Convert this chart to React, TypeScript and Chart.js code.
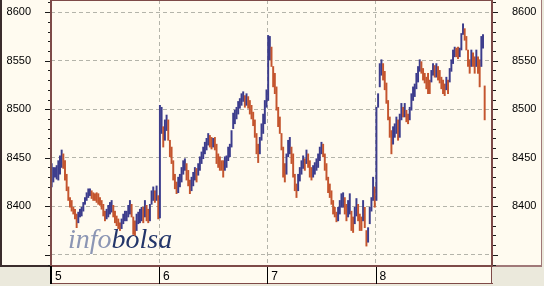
import { useEffect, useRef } from "react";
import { Chart, registerables } from "chart.js";

Chart.register(...registerables);

// ---- data -------------------------------------------------------------
const dayLabels = ["5", "6", "7", "8"];
const dayStarts = [-0.4, 64.5, 129.5, 194.5]; // x positions of day separators (bar index units)
const BARS_PER_DAY = 65;
const yMin = 8338.5;
const yMax = 8612.5;
const yTickValues = [8350, 8400, 8450, 8500, 8550, 8600];

// each entry: [low, high] of one intraday bar
const day5: [number, number][] = [
  [8420, 8444], [8425, 8440], [8430, 8440], [8428, 8442], [8427, 8447], [8433, 8452], [8440, 8458], [8439, 8454],
  [8427, 8447], [8416, 8433], [8406, 8420], [8399, 8409], [8395, 8406], [8392, 8399], [8387, 8397], [8378, 8392],
  [8383, 8394], [8389, 8397], [8390, 8399], [8395, 8404], [8402, 8409], [8406, 8414], [8409, 8418], [8411, 8418],
  [8408, 8416], [8406, 8414], [8406, 8413], [8404, 8414], [8402, 8413], [8401, 8409], [8397, 8406], [8390, 8402],
  [8385, 8395], [8387, 8397], [8389, 8401], [8392, 8404], [8394, 8406], [8389, 8401], [8383, 8395], [8380, 8390],
  [8377, 8387], [8375, 8383], [8377, 8387], [8382, 8392], [8385, 8395], [8385, 8395], [8389, 8401], [8392, 8406],
  [8389, 8402], [8371, 8389], [8370, 8385], [8375, 8392], [8382, 8394], [8383, 8397], [8385, 8399], [8383, 8399],
  [8389, 8406], [8385, 8401], [8383, 8397], [8385, 8402], [8402, 8416], [8406, 8420], [8404, 8416], [8406, 8421],
  [8387, 8411],
];
const day6: [number, number][] = [
  [8388, 8504], [8475, 8502], [8461, 8482], [8468, 8489], [8478, 8494], [8468, 8489], [8451, 8468], [8444, 8461],
  [8427, 8447], [8418, 8433], [8413, 8425], [8414, 8430], [8420, 8433], [8425, 8440], [8433, 8447], [8437, 8449],
  [8427, 8444], [8421, 8437], [8413, 8427], [8416, 8430], [8421, 8435], [8427, 8440], [8425, 8439], [8432, 8444],
  [8437, 8451], [8444, 8456], [8449, 8461], [8454, 8466], [8458, 8470], [8463, 8475], [8461, 8473], [8459, 8471],
  [8461, 8470], [8458, 8471], [8444, 8464], [8440, 8454], [8437, 8451], [8437, 8447], [8430, 8447], [8437, 8451],
  [8440, 8452], [8447, 8461], [8451, 8464], [8461, 8478], [8480, 8496], [8485, 8499], [8490, 8502], [8495, 8508],
  [8501, 8511], [8504, 8516], [8508, 8518], [8502, 8514], [8504, 8516], [8501, 8513], [8495, 8509], [8490, 8504],
  [8483, 8497], [8471, 8489], [8454, 8475], [8445, 8464], [8454, 8471], [8468, 8485], [8475, 8495], [8485, 8509],
  [8502, 8520],
];
const day7: [number, number][] = [
  [8509, 8576], [8551, 8575], [8544, 8564], [8523, 8544], [8516, 8537], [8499, 8523], [8482, 8502], [8475, 8492],
  [8458, 8475], [8430, 8461], [8425, 8444], [8433, 8454], [8451, 8468], [8454, 8471], [8444, 8461], [8430, 8454],
  [8416, 8433], [8409, 8423], [8416, 8433], [8426, 8440], [8433, 8447], [8439, 8452], [8437, 8449], [8444, 8458],
  [8440, 8454], [8430, 8447], [8427, 8440], [8430, 8442], [8433, 8445], [8437, 8449], [8440, 8454], [8447, 8461],
  [8454, 8466], [8451, 8464], [8437, 8454], [8427, 8444], [8414, 8430], [8409, 8423], [8402, 8416], [8392, 8406],
  [8389, 8399], [8384, 8394], [8385, 8399], [8392, 8406], [8399, 8413], [8399, 8414], [8392, 8409], [8385, 8402],
  [8389, 8406], [8392, 8413], [8375, 8395], [8373, 8389], [8382, 8399], [8390, 8408], [8385, 8402], [8375, 8392],
  [8375, 8389], [8385, 8406], [8378, 8399], [8359, 8375], [8363, 8378], [8382, 8399], [8395, 8409], [8406, 8430],
  [8399, 8420],
];
const day8: [number, number][] = [
  [8406, 8502], [8502, 8516], [8523, 8547], [8535, 8551], [8530, 8547], [8520, 8539], [8506, 8527], [8489, 8509],
  [8471, 8492], [8454, 8478], [8464, 8482], [8471, 8485], [8475, 8492], [8468, 8489], [8471, 8495], [8489, 8506],
  [8492, 8502], [8492, 8506], [8487, 8499], [8485, 8495], [8489, 8502], [8499, 8516], [8509, 8523], [8513, 8526],
  [8521, 8537], [8528, 8544], [8539, 8551], [8537, 8549], [8530, 8542], [8527, 8537], [8521, 8533], [8516, 8537],
  [8516, 8530], [8528, 8540], [8535, 8547], [8533, 8545], [8533, 8547], [8530, 8544], [8527, 8540], [8521, 8533],
  [8516, 8530], [8514, 8526], [8520, 8533], [8516, 8530], [8528, 8542], [8539, 8551], [8547, 8561], [8554, 8564],
  [8554, 8563], [8552, 8564], [8554, 8563], [8561, 8578], [8577, 8588], [8571, 8583], [8561, 8575], [8544, 8561],
  [8537, 8551], [8544, 8561], [8544, 8558], [8537, 8554], [8544, 8561], [8537, 8554], [8523, 8551], [8544, 8575],
  [8563, 8577], [8489, 8524],
];

// ---- styles -------------------------------------------------------------
const CREAM = "#fffbf0";
const GRAY = "#ebe9dc";
const GRID = "#b4b4aa";
const AXIS = "#7e4a48";
const DARK = "#3a2c2c";
const PANEL_LINE = "#a07878";
const UP = "#3c3c8c";
const DOWN = "#c4552e";
const FONT = "'Liberation Sans', Arial, sans-serif";

export default function App() {
  const ref = useRef<HTMLCanvasElement>(null);

  useEffect(() => {
    document.body.style.margin = "0";
    const canvas = ref.current;
    if (!canvas) return;

    const days = [day5, day6, day7, day8];
    const points: { x: number; y: [number, number] }[] = [];
    days.forEach((d, di) => d.forEach((r, k) => points.push({ x: di * BARS_PER_DAY + k, y: r })));
    const colors = points.map((p, i) => {
      const mid = (p.y[0] + p.y[1]) / 2;
      const prev = i > 0 ? (points[i - 1].y[0] + points[i - 1].y[1]) / 2 : mid;
      return mid >= prev ? UP : DOWN;
    });

    const framePlugin = {
      id: "frame",
      beforeDraw(chart: any) {
        const ctx = chart.ctx;
        ctx.save();
        ctx.fillStyle = GRAY;
        ctx.fillRect(0, 0, 544, 286);
        ctx.fillStyle = CREAM;
        ctx.fillRect(0, 0, 542, 267);
        ctx.fillRect(50, 266, 442, 18);
        ctx.restore();
      },
      beforeDatasetsDraw(chart: any) {
        const ctx = chart.ctx;
        ctx.save();
        ctx.textBaseline = "alphabetic";
        ctx.textAlign = "left";
        ctx.font = "italic 28px 'Liberation Serif', 'Times New Roman', serif";
        ctx.fillStyle = "#8c96b4";
        const x0 = 68;
        const base = 248;
        ctx.fillText("info", x0, base);
        const w = ctx.measureText("info").width;
        ctx.fillStyle = "#24366a";
        ctx.fillText("bolsa", x0 + w, base);
        ctx.restore();
      },
      afterDraw(chart: any) {
        const ctx = chart.ctx;
        const ys = chart.scales.y;
        const xs = chart.scales.x;
        ctx.save();
        // left panel border
        ctx.fillStyle = DARK;
        ctx.fillRect(0, 0, 2, 266);
        ctx.fillRect(0, 265, 51, 2);
        // right panel border
        ctx.fillStyle = PANEL_LINE;
        ctx.fillRect(541, 0, 1, 267);
        ctx.fillRect(492, 265, 50, 2);
        // plot frame
        ctx.fillStyle = AXIS;
        ctx.fillRect(50, 0, 443, 1);
        ctx.fillRect(50, 0, 2, 267);
        ctx.fillRect(491, 0, 2, 267);
        ctx.fillRect(50, 265, 443, 2);
        // x strip
        ctx.fillRect(50, 283, 443, 1);
        ctx.fillRect(491, 266, 1, 18);
        ctx.fillStyle = "#000";
        ctx.fillRect(50, 266, 2, 18);
        for (let i = 1; i < dayStarts.length; i++) {
          const px = Math.round(xs.getPixelForValue(dayStarts[i]));
          ctx.fillRect(px, 267, 1, 17);
        }
        // y tick marks
        ctx.fillStyle = "#1a1a1a";
        for (let v = 8340; v <= 8610; v += 10) {
          const py = Math.round(ys.getPixelForValue(v));
          if (py < 1 || py > 265) continue;
          if (v % 50 === 0) {
            ctx.fillRect(45, py, 5, 1);
            ctx.fillRect(493, py, 5, 1);
          } else {
            ctx.fillRect(48, py, 2, 1);
            ctx.fillRect(493, py, 3, 1);
          }
        }
        ctx.restore();
      },
    };

    const yTickLabel = (v: any) => (v === 8350 ? "" : String(v));

    const chart = new Chart(canvas, {
      type: "bar",
      data: {
        datasets: [
          {
            data: points as any,
            backgroundColor: colors,
            borderWidth: 0,
            barThickness: 1.3,
            yAxisID: "y",
          },
        ],
      },
      options: {
        animation: false,
        responsive: false,
        devicePixelRatio: 1,
        layout: { padding: 0 },
        plugins: { legend: { display: false }, tooltip: { enabled: false } },
        scales: {
          x: {
            type: "linear",
            offset: false,
            min: dayStarts[0],
            max: 264.4,
            afterBuildTicks: (s: any) => {
              s.ticks = dayStarts.map((v) => ({ value: v }));
            },
            ticks: {
              callback: (_v: any, i: number) => dayLabels[i],
              align: "start",
              labelOffset: 4,
              padding: 3,
              autoSkip: false,
              maxRotation: 0,
              color: "#000",
              font: { family: FONT, size: 12 },
            },
            grid: { color: GRID, drawTicks: false, lineWidth: 1, offset: false },
            border: { display: false, dash: [4, 3] },
            afterFit: (s: any) => {
              s.height = 20;
              s.paddingLeft = 0;
              s.paddingRight = 0;
            },
          } as any,
          y: {
            type: "linear",
            position: "left",
            min: yMin,
            max: yMax,
            afterBuildTicks: (s: any) => {
              s.ticks = yTickValues.map((v) => ({ value: v }));
            },
            ticks: {
              callback: yTickLabel,
              padding: 20,
              color: "#000",
              font: { family: FONT, size: 11 },
            },
            grid: { color: GRID, drawTicks: false, lineWidth: 1 },
            border: { display: false, dash: [4, 3] },
            afterFit: (s: any) => {
              s.width = 51;
              s.paddingTop = 0;
              s.paddingBottom = 0;
            },
          } as any,
          y2: {
            type: "linear",
            position: "right",
            min: yMin,
            max: yMax,
            afterBuildTicks: (s: any) => {
              s.ticks = yTickValues.map((v) => ({ value: v }));
            },
            ticks: {
              callback: yTickLabel,
              padding: 20,
              color: "#000",
              font: { family: FONT, size: 11 },
            },
            grid: { display: false, drawTicks: false },
            border: { display: false },
            afterFit: (s: any) => {
              s.width = 52;
              s.paddingTop = 0;
              s.paddingBottom = 0;
            },
          } as any,
        },
      },
      plugins: [framePlugin],
    });

    return () => chart.destroy();
  }, []);

  return <canvas ref={ref} width={544} height={286} style={{ display: "block", width: 544, height: 286 }} />;
}
